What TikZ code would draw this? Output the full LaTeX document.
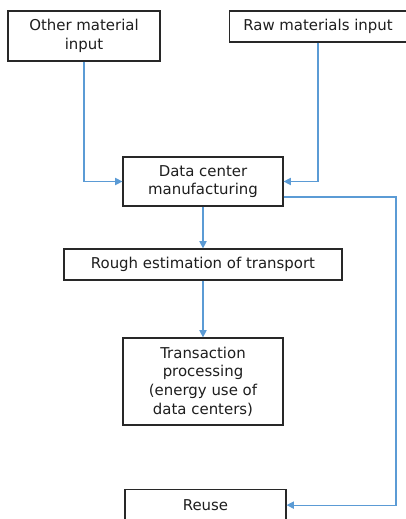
\documentclass[tikz,border=0pt]{standalone}
\usepackage{fontspec}
\setmainfont{DejaVu Sans}
\usepackage{tikz}
\usetikzlibrary{arrows.meta, positioning}

\definecolor{flowblue}{RGB}{91,155,213}
\definecolor{boxline}{RGB}{40,40,40}
\definecolor{boxtext}{RGB}{30,30,30}

\begin{document}
\begin{tikzpicture}[x=0.75pt, y=-0.75pt, every node/.style={font=\fontsize{11.2}{14}\selectfont, text=boxtext}]

% Styles
\tikzstyle{box} = [draw=boxline, line width=0.9pt, align=center, inner sep=2pt, fill=white]
\tikzstyle{arrow} = [-{Triangle[length=5.5pt, width=5.5pt]}, draw=flowblue, line width=0.8pt]

\useasboundingbox (0,0) rectangle (406,519);

% Nodes
\node[box, minimum width=114pt, minimum height=37.5pt] (other) at (84,36) {Other material\\input};
\node[box, minimum width=132.75pt, minimum height=23.25pt] (raw) at (318,26.5) {Raw materials input};
\node[box, minimum width=120pt, minimum height=36.75pt] (dcm) at (203,181.5) {Data center\\manufacturing};
\node[box, minimum width=208.5pt, minimum height=23.25pt] (transport) at (203,264.5) {Rough estimation of transport};
\node[box, minimum width=120pt, minimum height=65.25pt] (txn) at (203,381.5) {Transaction\\processing\\(energy use of\\data centers)};
\node[box, minimum width=120.75pt, minimum height=23.25pt, anchor=north] (reuse) at (205.5,489) {Reuse};

\coordinate (rail) at (396,350);

% Arrows
\draw[arrow] (other.south) |- (dcm.west);
\draw[arrow] (raw.south) |- (dcm.east);
\draw[arrow] (dcm) -- (transport);
\draw[arrow] (transport) -- (txn);
\draw[arrow] ([yshift=-11.6pt]dcm.east) -| (rail) |- (reuse.east);

\end{tikzpicture}
\end{document}
